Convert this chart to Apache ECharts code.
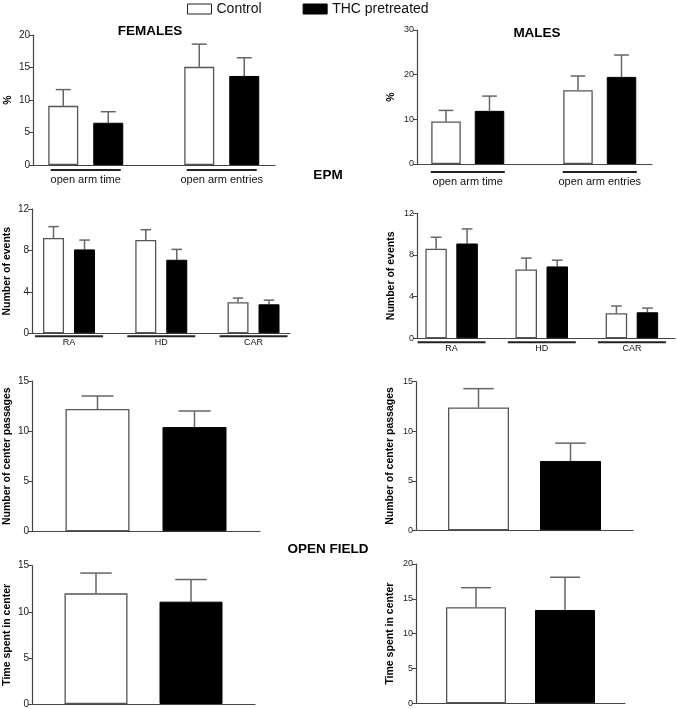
<!DOCTYPE html>
<html><head><meta charset="utf-8">
<script src="https://cdn.jsdelivr.net/npm/echarts@6/dist/echarts.min.js"></script>
<style>html,body{margin:0;padding:0;background:#fff}#c{width:677px;height:709px}</style>
</head><body><div id="c"></div><script>
// ---------- DATA ----------
const legendNames = ['Control', 'THC pretreated'];
const titleTexts = ['FEMALES', 'MALES', 'EPM', 'OPEN FIELD'];

const epmCats = ['open arm time', 'open arm entries'];
const femEpmCtrl = [9.1, 15.1];
const femEpmCtrlErr = [2.5, 3.5];
const femEpmThc = [6.5, 13.7];
const femEpmThcErr = [1.7, 2.8];
const malEpmCtrl = [9.5, 16.5];
const malEpmCtrlErr = [2.5, 3.2];
const malEpmThc = [11.9, 19.5];
const malEpmThcErr = [3.3, 4.9];

const eventCats = ['RA', 'HD', 'CAR'];
const femEvCtrl = [9.2, 9.0, 3.0];
const femEvCtrlErr = [1.1, 1.0, 0.4];
const femEvThc = [8.1, 7.1, 2.8];
const femEvThcErr = [0.9, 1.0, 0.4];
const malEvCtrl = [8.6, 6.6, 2.4];
const malEvCtrlErr = [1.1, 1.1, 0.7];
const malEvThc = [9.1, 6.9, 2.5];
const malEvThcErr = [1.4, 0.6, 0.4];

const ofCats = [''];
const femPassCtrl = [12.2];
const femPassCtrlErr = [1.3];
const femPassThc = [10.4];
const femPassThcErr = [1.6];
const malPassCtrl = [12.4];
const malPassCtrlErr = [1.9];
const malPassThc = [7.0];
const malPassThcErr = [1.8];
const femTimeCtrl = [12.0];
const femTimeCtrlErr = [2.2];
const femTimeThc = [11.1];
const femTimeThcErr = [2.4];
const malTimeCtrl = [13.8];
const malTimeCtrlErr = [2.8];
const malTimeThc = [13.4];
const malTimeThcErr = [4.7];

// ---------- LAYOUT ----------
const FONT = '"Liberation Sans", Arial, Helvetica, sans-serif';
const panels = [
  {cats: epmCats, ctrl: femEpmCtrl, ctrlErr: femEpmCtrlErr, thc: femEpmThc, thcErr: femEpmThcErr,
   yMax: 20, yInt: 5, yName: '%', nameGap: 19, tickFont: 10,
   axis: {left: 33, top: 35, width: 242, height: 130}, bars: {left: 17.75, width: 272},
   barW: 30, gap: 15, ul: 70, labelFont: 11, labelMargin: 4, labelLH: 17},
  {cats: epmCats, ctrl: malEpmCtrl, ctrlErr: malEpmCtrlErr, thc: malEpmThc, thcErr: malEpmThcErr,
   yMax: 30, yInt: 10, yName: '%', nameGap: 20, tickFont: 9,
   axis: {left: 417, top: 30, width: 235, height: 134}, bars: {left: 401.75, width: 264},
   barW: 29.5, gap: 14, ul: 74, labelFont: 11, labelMargin: 7, labelLH: 17},
  {cats: eventCats, ctrl: femEvCtrl, ctrlErr: femEvCtrlErr, thc: femEvThc, thcErr: femEvThcErr,
   yMax: 12, yInt: 4, yName: 'Number of events', nameGap: 19, tickFont: 10,
   axis: {left: 32, top: 209, width: 258, height: 124.3}, bars: {left: 22.9, width: 276.75},
   barW: 21, gap: 10, ul: 68, labelFont: 9, labelMargin: 2, labelLH: 10},
  {cats: eventCats, ctrl: malEvCtrl, ctrlErr: malEvCtrlErr, thc: malEvThc, thcErr: malEvThcErr,
   yMax: 12, yInt: 4, yName: 'Number of events', nameGap: 20, tickFont: 9,
   axis: {left: 417, top: 213.3, width: 258, height: 125}, bars: {left: 406.5, width: 279},
   barW: 21.5, gap: 9.5, ul: 68, labelFont: 9, labelMargin: 3, labelLH: 11},
  {cats: ofCats, ctrl: femPassCtrl, ctrlErr: femPassCtrlErr, thc: femPassThc, thcErr: femPassThcErr,
   yMax: 15, yInt: 5, yName: 'Number of center passages', nameGap: 19, tickFont: 10,
   axis: {left: 32, top: 381, width: 228, height: 150.3}, barW: 64, gap: 33},
  {cats: ofCats, ctrl: malPassCtrl, ctrlErr: malPassCtrlErr, thc: malPassThc, thcErr: malPassThcErr,
   yMax: 15, yInt: 5, yName: 'Number of center passages', nameGap: 20, tickFont: 9,
   axis: {left: 416, top: 381.7, width: 217, height: 148.6}, barW: 61, gap: 31},
  {cats: ofCats, ctrl: femTimeCtrl, ctrlErr: femTimeCtrlErr, thc: femTimeThc, thcErr: femTimeThcErr,
   yMax: 15, yInt: 5, yName: 'Time spent in center', nameGap: 19, tickFont: 10,
   axis: {left: 32, top: 565.7, width: 223, height: 138.6}, barW: 63, gap: 32},
  {cats: ofCats, ctrl: malTimeCtrl, ctrlErr: malTimeCtrlErr, thc: malTimeThc, thcErr: malTimeThcErr,
   yMax: 20, yInt: 5, yName: 'Time spent in center', nameGap: 20, tickFont: 9,
   axis: {left: 416, top: 564, width: 209, height: 139.3}, barW: 60, gap: 29}
];
const titlePos = [[150, 31.5], [537, 33], [328, 175], [328, 549]];

const AXIS_COLOR = '#444';
const ERR_COLOR = '#666';

function errRenderer(offset, capW) {
  return function (params, api) {
    const c = api.value(0), v = api.value(1), e = api.value(2);
    const base = api.coord([c, v]);
    const top = api.coord([c, v + e]);
    const x = base[0] + offset;
    const st = {stroke: ERR_COLOR, lineWidth: 1.5};
    return {type: 'group', children: [
      {type: 'line', shape: {x1: x, y1: base[1], x2: x, y2: top[1]}, style: st},
      {type: 'line', shape: {x1: x - capW / 2, y1: top[1], x2: x + capW / 2, y2: top[1]}, style: st}
    ]};
  };
}

const grids = [], xAxes = [], yAxes = [], series = [];
panels.forEach(function (p) {
  const ai = grids.length;
  grids.push({left: p.axis.left, top: p.axis.top, width: p.axis.width, height: p.axis.height});
  xAxes.push({gridIndex: ai, type: 'category', data: p.bars ? [''] : p.cats,
    axisLine: {show: true, lineStyle: {color: AXIS_COLOR, width: 1.2}},
    axisTick: {show: false}, axisLabel: {show: false}});
  yAxes.push({gridIndex: ai, type: 'value', min: 0, max: p.yMax, interval: p.yInt,
    name: p.yName, nameLocation: 'middle', nameGap: p.nameGap,
    nameTextStyle: {fontSize: 10.5, fontWeight: 'bold', color: '#000', fontFamily: FONT},
    axisLine: {show: true, lineStyle: {color: AXIS_COLOR, width: 1.2}},
    axisTick: {show: true, length: 4, lineStyle: {color: AXIS_COLOR, width: 1}},
    axisLabel: {fontSize: p.tickFont, color: '#222', margin: 3, fontFamily: FONT},
    splitLine: {show: false}});
  let bi = ai;
  if (p.bars) {
    bi = grids.length;
    grids.push({left: p.bars.left, top: p.axis.top, width: p.bars.width, height: p.axis.height});
    xAxes.push({gridIndex: bi, type: 'category', data: p.cats,
      axisLine: {show: false}, axisTick: {show: false},
      axisLabel: {interval: 0, margin: p.labelMargin,
        formatter: function (v) { return '{u| }\n{t|' + v + '}'; },
        rich: {
          u: {width: p.ul, height: 2, lineHeight: 2, fontSize: 2, backgroundColor: '#222', align: 'center'},
          t: {fontSize: p.labelFont, lineHeight: p.labelLH, color: '#111', fontFamily: FONT, align: 'center'}
        }}});
    yAxes.push({gridIndex: bi, type: 'value', min: 0, max: p.yMax, show: false});
  }
  const off = (p.barW + p.gap) / 2;
  series.push({type: 'bar', name: legendNames[0], xAxisIndex: bi, yAxisIndex: bi,
    data: p.ctrl, barWidth: p.barW, barGap: (p.gap / p.barW * 100) + '%',
    itemStyle: {color: '#fff', borderColor: '#555', borderWidth: 1.3}, z: 2});
  series.push({type: 'bar', name: legendNames[1], xAxisIndex: bi, yAxisIndex: bi,
    data: p.thc, barWidth: p.barW, barGap: (p.gap / p.barW * 100) + '%',
    itemStyle: {color: '#000', borderColor: '#000', borderWidth: 1}, z: 2});
  series.push({type: 'custom', xAxisIndex: bi, yAxisIndex: bi, z: 1,
    renderItem: errRenderer(-off, p.barW / 2), encode: {x: 0, y: 1},
    data: p.cats.map(function (c, i) { return [i, p.ctrl[i], p.ctrlErr[i]]; })});
  series.push({type: 'custom', xAxisIndex: bi, yAxisIndex: bi, z: 1,
    renderItem: errRenderer(off, p.barW / 2), encode: {x: 0, y: 1},
    data: p.cats.map(function (c, i) { return [i, p.thc[i], p.thcErr[i]]; })});
});

const chart = echarts.init(document.getElementById('c'), null, {renderer: 'canvas'});
chart.setOption({
  animation: false,
  backgroundColor: '#fff',
  legend: {left: 187, top: 2, padding: 0, itemWidth: 24, itemHeight: 10, itemGap: 41, icon: 'rect',
    textStyle: {fontSize: 14, color: '#111', fontFamily: FONT},
    data: [
      {name: legendNames[0], itemStyle: {color: '#fff', borderColor: '#222', borderWidth: 1}},
      {name: legendNames[1], itemStyle: {color: '#000', borderColor: '#000', borderWidth: 1}}
    ]},
  graphic: titleTexts.map(function (t, i) {
    return {type: 'text', x: titlePos[i][0], y: titlePos[i][1],
      style: {text: t, font: 'bold 13.5px ' + FONT, fill: '#000', textAlign: 'center', verticalAlign: 'middle', textVerticalAlign: 'middle'}};
  }),
  grid: grids, xAxis: xAxes, yAxis: yAxes, series: series
});
</script></body></html>
